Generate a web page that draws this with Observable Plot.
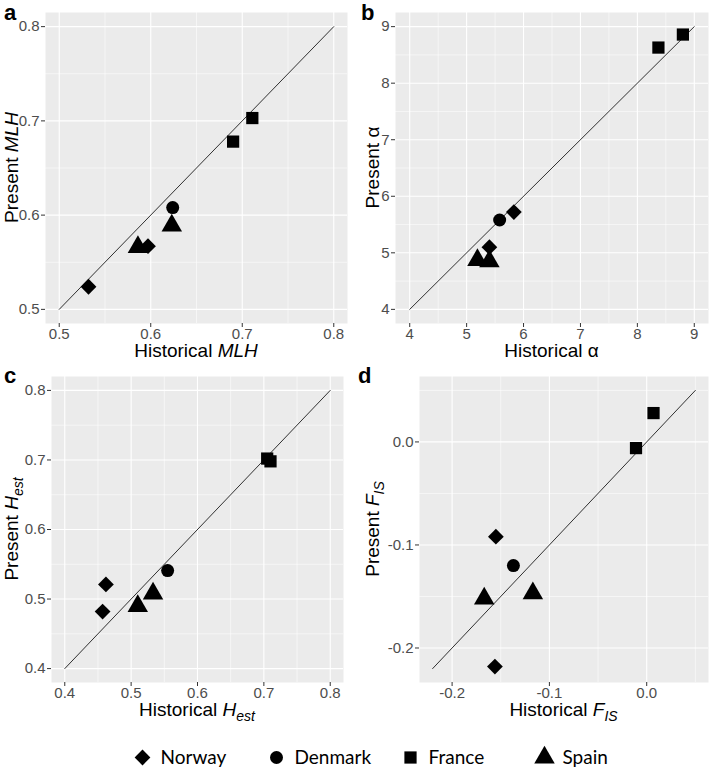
<!DOCTYPE html>
<html><head><meta charset="utf-8">
<script src="https://cdn.jsdelivr.net/npm/d3@7"></script>
<script src="https://cdn.jsdelivr.net/npm/@observablehq/plot@0.6"></script>
<style>
body{margin:0;background:#fff;}
#fig{position:relative;width:709px;height:771px;font-family:"Liberation Sans",Arial,sans-serif;}
#fig svg{position:absolute;}
</style></head><body><div id="fig"></div>
<script>
// ---- data ----
const population = ["Norway","Norway","Denmark","France","France","Spain","Spain"];
const mlhHistorical = [0.532,0.597,0.624,0.690,0.711,0.586,0.623];
const mlhPresent    = [0.524,0.567,0.608,0.678,0.703,0.566,0.589];
const alphaHistorical = [5.83,5.40,5.58,8.37,8.80,5.19,5.40];
const alphaPresent    = [5.72,5.10,5.58,8.63,8.86,4.87,4.85];
const hestHistorical = [0.462,0.457,0.555,0.705,0.710,0.510,0.533];
const hestPresent    = [0.521,0.482,0.541,0.702,0.698,0.490,0.508];
const fisHistorical = [-0.155,-0.156,-0.137,0.007,-0.011,-0.167,-0.117];
const fisPresent    = [-0.092,-0.218,-0.120,0.028,-0.006,-0.152,-0.147];
const countries = ["Norway","Denmark","France","Spain"];
const shapes = ["diamond2","circle","square","triangle"];
const panelTags = ["a","b","c","d"];
const ticksMLH = [0.5,0.6,0.7,0.8];
const ticksAlpha = [4,5,6,7,8,9];
const ticksHest = [0.4,0.5,0.6,0.7,0.8];
const ticksFis = [-0.2,-0.1,0.0];
const minorMLH = [0.55,0.65,0.75];
const minorAlpha = [4.5,5.5,6.5,7.5,8.5];
const minorHest = [0.45,0.55,0.65,0.75];
const minorFis = [-0.15,-0.05,0.05];
const lineMLH = [0.5,0.8];
const lineAlpha = [4,9];
const lineHest = [0.4,0.8];
const lineFis = [-0.22,0.05];

// ---- styling ----
const symbolR = {Norway:7.1, Denmark:6.5, France:6.9, Spain:7.6};
const FONT = '"Liberation Sans", Arial, sans-serif';
const fig = d3.select("#fig");

const panels = [
  {left:0, top:0, w:354, h:370, ml:45, mr:7, mt:12, mb:47, ytx:17.5, tagx:4, tagy:20,
   hist:mlhHistorical, pres:mlhPresent, ticks:ticksMLH, minor:minorMLH, line:lineMLH,
   fmt:d=>d.toFixed(1), xl:[["Historical ",0],["MLH",1]], yl:[["Present ",0],["MLH",1]]},
  {left:354, top:0, w:355, h:370, ml:41, mr:1, mt:12, mb:47, ytx:25, tagx:361, tagy:20,
   hist:alphaHistorical, pres:alphaPresent, ticks:ticksAlpha, minor:minorAlpha, line:lineAlpha,
   fmt:d=>String(d), xl:[["Historical α",0]], yl:[["Present α",0]]},
  {left:0, top:370, w:354, h:360, ml:51, mr:11, mt:6, mb:48, ytx:17.5, tagx:4, tagy:383,
   hist:hestHistorical, pres:hestPresent, ticks:ticksHest, minor:minorHest, line:lineHest,
   fmt:d=>d.toFixed(1), xl:[["Historical ",0],["H",1],["est",2]], yl:[["Present ",0],["H",1],["est",2]]},
  {left:354, top:370, w:355, h:360, ml:65, mr:1, mt:6, mb:48, ytx:25, tagx:358, tagy:383,
   hist:fisHistorical, pres:fisPresent, ticks:ticksFis, minor:minorFis, line:lineFis,
   fmt:d=>d.toFixed(1), xl:[["Historical ",0],["F",1],["IS",2]], yl:[["Present ",0],["F",1],["IS",2]]}
];

function addLabel(sel, segs) {
  segs.forEach(([t, kind]) => {
    const ts = sel.append("tspan").text(t);
    if (kind >= 1) ts.attr("font-style", "italic");
    if (kind === 2) ts.attr("font-size", 14).attr("dy", 5);
  });
}

for (const cfg of panels) {
  const data = population.map((c, i) => ({country: c, h: cfg.hist[i], p: cfg.pres[i]}));
  const lo = Math.min(cfg.line[0], cfg.ticks[0]);
  const hi = Math.max(cfg.line[1], cfg.ticks.at(-1));
  const dom = [lo - 0.05 * (hi - lo), hi + 0.05 * (hi - lo)];
  const axisStyle = {tickSize: 4, fontSize: 15, fill: "#4D4D4D", stroke: "#333333", tickFormat: cfg.fmt, label: null};
  const svgNode = Plot.plot({
    width: cfg.w, height: cfg.h,
    marginLeft: cfg.ml, marginRight: cfg.mr, marginTop: cfg.mt, marginBottom: cfg.mb,
    x: {domain: dom}, y: {domain: dom},
    symbol: {domain: countries, range: shapes},
    style: {background: "transparent", fontFamily: FONT, fontSize: "15px", overflow: "visible"},
    marks: [
      Plot.frame({fill: "#EBEBEB", stroke: null}),
      Plot.gridX({ticks: cfg.minor, stroke: "white", strokeOpacity: 1, strokeWidth: 0.55}),
      Plot.gridY({ticks: cfg.minor, stroke: "white", strokeOpacity: 1, strokeWidth: 0.55}),
      Plot.gridX({ticks: cfg.ticks, stroke: "white", strokeOpacity: 1, strokeWidth: 1.1}),
      Plot.gridY({ticks: cfg.ticks, stroke: "white", strokeOpacity: 1, strokeWidth: 1.1}),
      Plot.axisX({ticks: cfg.ticks, tickPadding: 1, ...axisStyle}),
      Plot.axisY({ticks: cfg.ticks, tickPadding: 2, ...axisStyle}),
      Plot.line(cfg.line, {x: d => d, y: d => d, stroke: "black", strokeWidth: 0.8}),
      ...countries.map(c => Plot.dot(data, {filter: d => d.country === c, x: "h", y: "p",
        symbol: "country", r: symbolR[c], fill: "black", stroke: null}))
    ]
  });
  fig.node().appendChild(svgNode);
  const svg = d3.select(svgNode).style("left", cfg.left + "px").style("top", cfg.top + "px");
  const cx = cfg.ml + (cfg.w - cfg.ml - cfg.mr) / 2;
  const cy = cfg.mt + (cfg.h - cfg.mt - cfg.mb) / 2;
  const xt = svg.append("text").attr("x", cx).attr("y", cfg.h - cfg.mb + 34)
    .attr("text-anchor", "middle").attr("font-size", 19).attr("fill", "black").attr("font-family", FONT);
  addLabel(xt, cfg.xl);
  const yt = svg.append("text").attr("transform", `translate(${cfg.ytx},${cy}) rotate(-90)`)
    .attr("text-anchor", "middle").attr("font-size", 19).attr("fill", "black").attr("font-family", FONT);
  addLabel(yt, cfg.yl);
}

// ---- legend ----
const legend = Plot.plot({
  width: 709, height: 40, margin: 0,
  x: {type: "point", domain: countries, range: [74, 611], axis: null},
  symbol: {domain: countries, range: shapes},
  style: {background: "transparent", overflow: "visible"},
  marks: [
    ...countries.map(c => Plot.dot([c], {x: d => d, symbol: d => d, r: symbolR[c], fill: "black", stroke: null, frameAnchor: "middle"})),
    Plot.text(countries, {x: d => d, text: d => d, dx: 18, textAnchor: "start", fontSize: 19,
      fontFamily: "Lato, 'Open Sans', sans-serif", fill: "black", frameAnchor: "middle"})
  ]
});
fig.node().appendChild(legend);
d3.select(legend).style("left", "0px").style("top", "737px");

// ---- panel tags (overlay) ----
const overlay = fig.append("svg").attr("width", 709).attr("height", 771)
  .style("left", "0px").style("top", "0px").style("pointer-events", "none");
overlay.selectAll("text").data(panels).join("text")
  .attr("x", d => d.tagx).attr("y", d => d.tagy)
  .text((d, i) => panelTags[i])
  .attr("font-size", 22).attr("font-weight", "bold").attr("fill", "black").attr("font-family", FONT);
</script>
</body></html>
